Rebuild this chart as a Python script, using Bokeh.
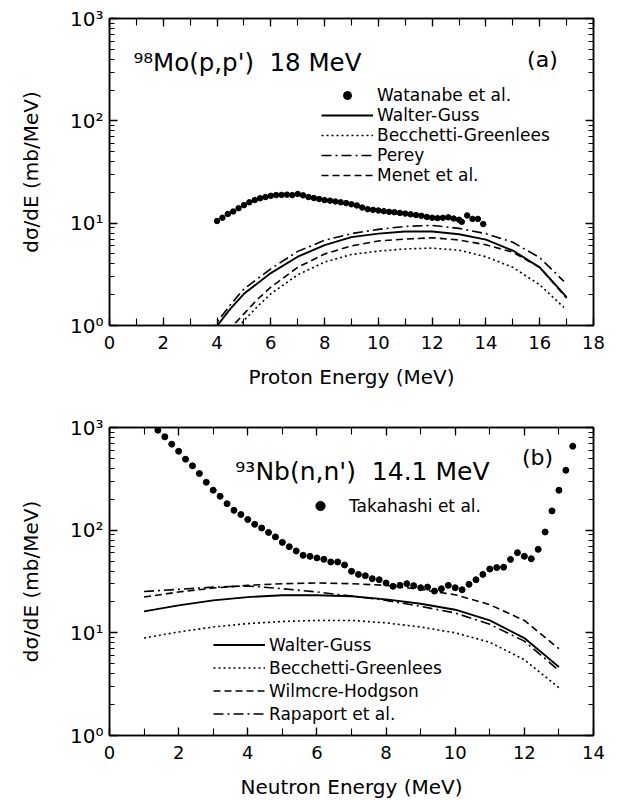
from bokeh.plotting import figure
from bokeh.models import (Range1d, LinearAxis, LogAxis, SingleIntervalTicker,
                          FixedTicker, Legend, LegendItem, Label,
                          CustomJSTickFormatter)
from bokeh.layouts import column
from bokeh.embed import file_html
from bokeh.resources import INLINE

FONT = "DejaVu Sans"

# ---------------- Panel (a): 98Mo(p,p') 18 MeV ----------------
a_exp_E = [4.0, 4.2, 4.4, 4.6, 4.8, 5.0, 5.2, 5.4, 5.6, 5.8, 6.0, 6.2, 6.4, 6.6, 6.8,
           7.0, 7.2, 7.4, 7.6, 7.8, 8.0, 8.2, 8.4, 8.6, 8.8, 9.0, 9.2, 9.4, 9.6, 9.8,
           10.0, 10.2, 10.4, 10.6, 10.8, 11.0, 11.2, 11.4, 11.6, 11.8, 12.0, 12.2,
           12.4, 12.6, 12.8, 13.0, 13.1, 13.3, 13.5, 13.7, 13.9]
a_exp_val = [10.5, 11.3, 12.3, 13.0, 14.0, 15.0, 16.0, 16.8, 17.5, 18.0, 18.5, 18.8,
             18.9, 19.0, 18.8, 19.3, 18.7, 18.0, 17.6, 17.2, 16.8, 16.6, 16.3, 16.0,
             15.7, 15.3, 14.9, 14.2, 13.7, 13.5, 13.3, 13.1, 12.9, 12.8, 12.6, 12.4,
             12.2, 12.0, 11.8, 11.5, 11.3, 11.2, 11.3, 11.4, 11.1, 10.8, 10.3, 11.9,
             11.0, 11.0, 9.8]

a_wg_E = [3.8, 4.5, 5, 6, 7, 8, 9, 10, 11, 12, 13, 14, 15, 16, 17]
a_wg_val = [0.85, 1.46, 2.04, 3.25, 4.7, 6.1, 7.3, 7.9, 8.3, 8.3, 7.8, 6.9, 5.4, 3.7, 1.89]

a_bg_E = [4.7, 5, 5.5, 6, 7, 8, 9, 10, 11, 12, 13, 14, 15, 16, 16.9]
a_bg_val = [0.88, 1.12, 1.53, 2.04, 3.13, 4.16, 4.94, 5.33, 5.6, 5.7, 5.45, 4.7, 3.7, 2.5, 1.5]

a_pe_E = [3.7, 4.5, 5, 6, 7, 8, 9, 10, 11, 12, 13, 14, 15, 16, 16.9]
a_pe_val = [0.85, 1.6, 2.28, 3.58, 5.3, 6.8, 7.9, 8.7, 9.3, 9.5, 8.9, 7.9, 6.5, 4.6, 2.7]

a_me_E = [4.4, 5, 5.5, 6, 7, 8, 9, 10, 11, 12, 13, 14, 15, 16, 17]
a_me_val = [0.88, 1.3, 1.8, 2.37, 3.7, 5.0, 6.0, 6.7, 7.0, 7.2, 6.85, 6.15, 5.2, 3.7, 1.85]

# ---------------- Panel (b): 93Nb(n,n') 14.1 MeV ----------------
b_exp_E = [1.4, 1.6, 1.8, 2.0, 2.2, 2.4, 2.6, 2.8, 3.0, 3.2, 3.4, 3.6, 3.8, 4.0, 4.2,
           4.4, 4.6, 4.8, 5.0, 5.2, 5.4, 5.6, 5.8, 6.0, 6.2, 6.4, 6.6, 6.8, 7.0, 7.2,
           7.4, 7.6, 7.8, 8.0, 8.2, 8.4, 8.6, 8.8, 9.0, 9.2, 9.4, 9.6, 9.8, 10.0,
           10.2, 10.4, 10.6, 10.8, 11.0, 11.2, 11.4, 11.6, 11.8, 12.0, 12.2, 12.4,
           12.6, 12.8, 13.0, 13.2, 13.4]
b_exp_val = [941, 811, 688, 587, 491, 423, 356, 293, 245, 214, 181, 156, 142, 127, 114,
             105, 95, 86, 76, 69, 62.7, 56.9, 55.6, 53.6, 52.0, 49.0, 49.0, 45.8, 39.7,
             37.1, 36.0, 33.7, 32.9, 30.6, 28.4, 29.0, 30.1, 28.8, 27.5, 27.9, 25.5,
             26.9, 29.0, 27.5, 26.3, 29.7, 32.9, 37.1, 41.8, 43.2, 43.6, 51.9, 60.4,
             55.6, 52.7, 65.0, 96.0, 154, 245, 383, 657]

b_E = [1, 2, 3, 4, 5, 6, 7, 8, 9, 10, 11, 12, 13]
b_wg_val = [16.2, 18.5, 20.7, 22.3, 23.2, 23.2, 22.7, 21.2, 19.2, 16.8, 13.2, 8.9, 4.64]
b_bg_val = [8.9, 10.2, 11.4, 12.3, 12.9, 13.2, 13.2, 12.5, 11.4, 10.0, 8.1, 5.47, 2.92]
b_wh_val = [22.3, 25.0, 27.3, 29.0, 30.1, 30.6, 30.1, 29.0, 26.5, 23.5, 18.8, 13.2, 7.0]
b_ra_val = [25.3, 26.5, 27.9, 28.6, 26.9, 25.0, 22.8, 20.7, 18.1, 15.6, 12.1, 8.3, 4.3]

y_major = [1, 10, 100, 1000]
y_labels = {1: "10\u2070", 10: "10\u00b9", 100: "10\u00b2", 1000: "10\u00b3"}
y_minor = [m * d for d in (1, 10, 100) for m in range(2, 10)]

DOT = "2 3"
DASH = "7 4"
DASHDOT = "10 4 2 4"

BLANK = CustomJSTickFormatter(code="return '';")


def make_panel(xmax, left, top, bottom, height, xlabel, xlab_standoff):
    p = figure(width=618, height=height, x_range=Range1d(0, xmax),
               y_range=Range1d(1, 1000), y_axis_type="log",
               output_backend="svg", toolbar_location=None,
               min_border_left=left, min_border_right=25,
               min_border_top=top, min_border_bottom=bottom)
    p.grid.visible = False
    p.outline_line_color = "black"
    p.outline_line_width = 1.5
    p.border_fill_color = "white"

    xa = p.xaxis[0]
    xa.ticker = SingleIntervalTicker(interval=2, num_minor_ticks=2)
    xa.axis_label = xlabel
    ya = p.yaxis[0]
    ya.ticker = FixedTicker(ticks=y_major, minor_ticks=y_minor)
    ya.major_label_overrides = y_labels
    ya.axis_label = "d\u03c3/dE (mb/MeV)"

    for ax in (xa, ya):
        ax.axis_line_color = "black"
        ax.axis_line_width = 1.5
        ax.major_tick_in = 8
        ax.major_tick_out = 0
        ax.major_tick_line_width = 1.3
        ax.minor_tick_out = 0
        ax.minor_tick_line_width = 1.1
        ax.major_label_text_font = FONT
        ax.major_label_text_color = "black"
        ax.axis_label_text_font = FONT
        ax.axis_label_text_font_size = "20px"
        ax.axis_label_text_font_style = "normal"
        ax.axis_label_text_color = "black"
    xa.major_label_text_font_size = "18px"
    ya.major_label_text_font_size = "20px"
    xa.minor_tick_in = 7
    ya.minor_tick_in = 5
    xa.major_label_standoff = 10
    xa.axis_label_standoff = xlab_standoff
    ya.major_label_standoff = 6
    ya.axis_label_standoff = 24

    above = LinearAxis(ticker=SingleIntervalTicker(interval=2, num_minor_ticks=2),
                       formatter=BLANK, major_label_text_font_size="2px",
                       major_label_standoff=0,
                       major_tick_in=8, major_tick_out=0, minor_tick_in=7,
                       minor_tick_out=0, axis_line_width=1.5,
                       major_tick_line_width=1.3, minor_tick_line_width=1.1)
    right = LogAxis(ticker=FixedTicker(ticks=y_major, minor_ticks=y_minor),
                    formatter=BLANK, major_label_text_font_size="2px",
                    major_label_standoff=0,
                    major_tick_in=8, major_tick_out=0, minor_tick_in=5,
                    minor_tick_out=0, axis_line_width=1.5,
                    major_tick_line_width=1.3, minor_tick_line_width=1.1)
    p.add_layout(above, "above")
    p.add_layout(right, "right")
    return p


def make_legend(items, loc, row_h, glyph_w=52):
    return Legend(items=items, location=loc, glyph_width=glyph_w,
                  glyph_height=row_h, label_height=row_h, spacing=0,
                  padding=2, margin=0, label_standoff=4,
                  label_text_font=FONT, label_text_font_size="17px",
                  label_text_color="black", border_line_color=None,
                  background_fill_alpha=0)


# ---- panel (a)
pa = make_panel(18, 106, 18, 75, 400, "Proton Energy (MeV)", 13)
r_wat = pa.scatter(a_exp_E, a_exp_val, size=5.5, color="black")
r_wg = pa.line(a_wg_E, a_wg_val, line_color="black", line_width=1.9)
r_bg = pa.line(a_bg_E, a_bg_val, line_color="black", line_width=1.6, line_dash=DOT)
r_pe = pa.line(a_pe_E, a_pe_val, line_color="black", line_width=1.6, line_dash=DASHDOT)
r_me = pa.line(a_me_E, a_me_val, line_color="black", line_width=1.6, line_dash=DASH)

pa.add_layout(Label(x=0.89, y=368, text="\u2079\u2078Mo(p,p')\u00a0 18 MeV",
                    text_font=FONT, text_font_size="24.5px",
                    text_baseline="alphabetic", text_color="black"))
pa.add_layout(Label(x=16.67, y=395, text="(a)", text_font=FONT,
                    text_font_size="22px", text_align="right",
                    text_baseline="alphabetic", text_color="black"))
pa.add_layout(make_legend([
    LegendItem(label="Watanabe et al.", renderers=[r_wat]),
    LegendItem(label="Walter-Guss", renderers=[r_wg]),
    LegendItem(label="Becchetti-Greenlees", renderers=[r_bg]),
    LegendItem(label="Perey", renderers=[r_pe]),
    LegendItem(label="Menet et al.", renderers=[r_me]),
], (212, 140), 20))

# ---- panel (b)
pb = make_panel(14, 109, 27, 66, 401, "Neutron Energy (MeV)", 13)
r_tak = pb.scatter(b_exp_E, b_exp_val, size=6, color="black")
r_wg2 = pb.line(b_E, b_wg_val, line_color="black", line_width=1.9)
r_bg2 = pb.line(b_E, b_bg_val, line_color="black", line_width=1.6, line_dash=DOT)
r_wh2 = pb.line(b_E, b_wh_val, line_color="black", line_width=1.6, line_dash=DASH)
r_ra2 = pb.line(b_E, b_ra_val, line_color="black", line_width=1.6, line_dash=DASHDOT)

pb.add_layout(Label(x=3.64, y=376, text="\u2079\u00b3Nb(n,n')\u00a0 14.1 MeV",
                    text_font=FONT, text_font_size="25px",
                    text_baseline="alphabetic", text_color="black"))
pb.add_layout(Label(x=12.83, y=510, text="(b)", text_font=FONT,
                    text_font_size="22px", text_align="right",
                    text_baseline="alphabetic", text_color="black"))
pb.add_layout(make_legend([
    LegendItem(label="Takahashi et al.", renderers=[r_tak]),
], (186, 218), 23, glyph_w=50))
pb.add_layout(make_legend([
    LegendItem(label="Walter-Guss", renderers=[r_wg2]),
    LegendItem(label="Becchetti-Greenlees", renderers=[r_bg2]),
    LegendItem(label="Wilmcre-Hodgson", renderers=[r_wh2]),
    LegendItem(label="Rapaport et al.", renderers=[r_ra2]),
], (104, 10), 23))

layout = column(pa, pb)
open("out.html", "w").write(file_html(layout, INLINE))
